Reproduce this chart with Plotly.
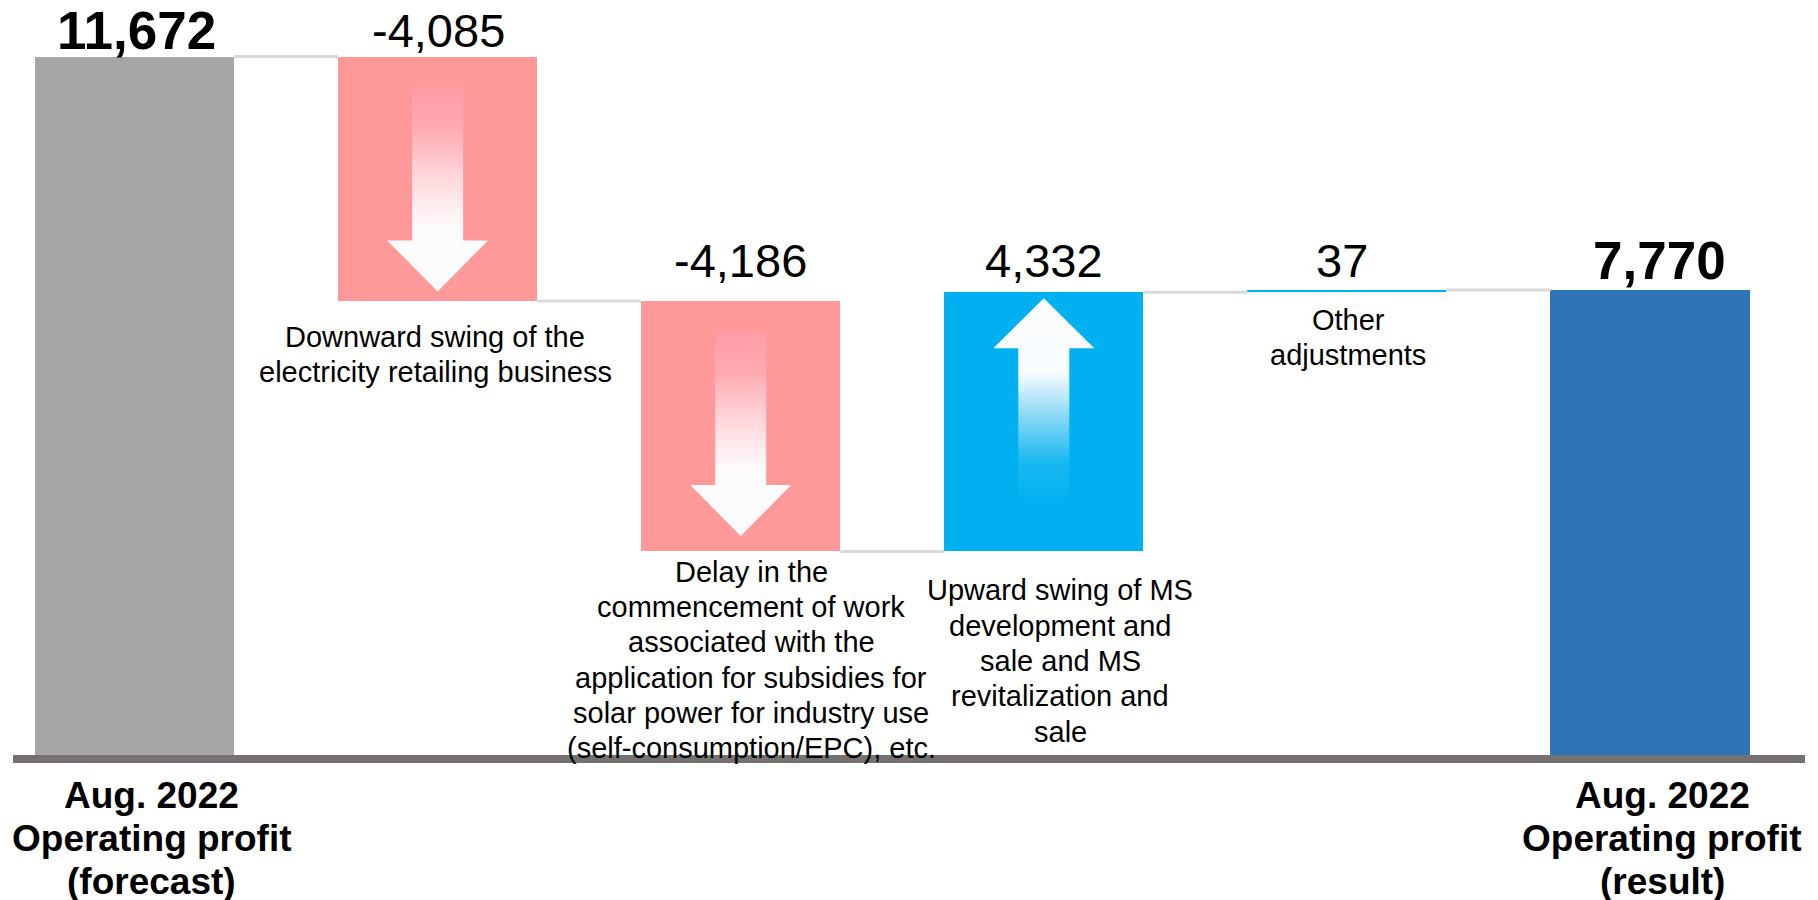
import plotly.graph_objects as go

# ---------------- data ----------------
categories = ["forecast", "retail", "subsidy", "ms", "other", "result"]
values = [11672, -4085, -4186, 4332, 37, 7770]
measures = ["absolute", "relative", "relative", "relative", "relative", "total"]
value_labels = ["11,672", "-4,085", "-4,186", "4,332", "37", "7,770"]
category_lines = [
    ["Aug. 2022", "Operating profit", "(forecast)"],
    [], [], [], [],
    ["Aug. 2022", "Operating profit", "(result)"],
]
description_lines = [
    [],
    ["Downward swing of the", "electricity retailing business"],
    ["Delay in the", "commencement of work", "associated with the",
     "application for subsidies for", "solar power for industry use",
     "(self-consumption/EPC), etc."],
    ["Upward swing of MS", "development and", "sale and MS",
     "revitalization and", "sale"],
    ["Other", "adjustments"],
    [],
]

# ---------------- style ----------------
FONT = "Arial, Liberation Sans, sans-serif"
bar_colors = ["#a6a6a6", "#ff9999", "#ff9999", "#00b0f0", "#00b0f0", "#2e75b6"]
bold_value = [True, False, False, False, False, True]
value_font = {True: 53, False: 47}
value_baseline = [-7.5, -9.8, -24.3, -15.5, -13.3, -11.7]   # px relative to bar top
value_xshift = [1.5, 1, 0, 0, -5, 9]
desc_baseline = [0, 45.7, 30, 48.8, 37.8, 0]                # px below bar bottom
desc_xshift = [0, -2.5, 10.5, 16.5, 1.5, 0]
desc_font = 29
desc_step = 35.3
cat_font = 37
cat_baselines = [53, 96, 139]
cat_xshift = [17, 0, 0, 0, 0, 12]

# page body has an 8px margin: the figure is sized to end at the window edge
W, H = 1810, 892
ML, MR, MT, MB = 5, 13, 0, 145
XR = [-0.4009, 5.5114]
YR = [0, 12483]
BAR_W = 0.6566
PLOT_H = H - MT - MB
PLOT_W = W - ML - MR
UPY = (YR[1] - YR[0]) / PLOT_H      # data units per pixel (y)
UPX = (XR[1] - XR[0]) / PLOT_W      # data units per pixel (x)
DESC, PAD = 0.212, 2

# ---------------- waterfall geometry from values ----------------
bases, heights, cums = [], [], []
cum = 0
for v, m in zip(values, measures):
    if m == "absolute":
        base, h, cum = 0, v, v
    elif m == "total":
        base, h = 0, cum
    else:
        base = cum if v >= 0 else cum + v
        h = abs(v)
        cum += v
    bases.append(base)
    heights.append(h)
    cums.append(cum)

xs = list(range(len(categories)))
fig = go.Figure()

fig.add_trace(go.Bar(
    x=xs, y=heights, base=bases, width=BAR_W,
    marker=dict(color=bar_colors, line=dict(width=0)),
    hoverinfo="skip", showlegend=False,
))

# connectors
cx, cy = [], []
for i in range(len(xs) - 1):
    cx += [xs[i] + BAR_W / 2, xs[i + 1] - BAR_W / 2, None]
    cy += [cums[i], cums[i], None]
fig.add_trace(go.Scatter(x=cx, y=cy, mode="lines",
                         line=dict(color="#d9d9d9", width=3),
                         hoverinfo="skip", showlegend=False))

# gradient arrows inside the change bars
SW, HW = 51 * UPX, 101 * UPX
for i, v in enumerate(values):
    if measures[i] != "relative" or abs(v) < 1000:
        continue
    c = xs[i]
    top = bases[i] + heights[i]
    if v < 0:
        t = top - 30 * UPY
        hb = t - 154 * UPY
        tip = hb - 51 * UPY
        px = [c - SW/2, c + SW/2, c + SW/2, c + HW/2, c, c - HW/2, c - SW/2, c - SW/2]
        py = [t, t, hb, hb, tip, hb, hb, t]
        cs = [[0, "#fbfcfe"], [0.32, "#fdfbfc"], [0.55, "#ffd9dd"],
              [0.8, "#ffa9b1"], [1, "#ff9ca6"]]
        lo, hi = tip, t
    else:
        tip = top - 6 * UPY
        hb = tip - 50 * UPY
        bot = hb - 155 * UPY
        px = [c - SW/2, c + SW/2, c + SW/2, c + HW/2, c, c - HW/2, c - SW/2, c - SW/2]
        py = [bot, bot, hb, hb, tip, hb, hb, bot]
        cs = [[0, "#00b0f0"], [0.2, "#1ab8f1"], [0.42, "#86d8f6"],
              [0.64, "#f9fcfe"], [1, "#fafcfe"]]
        lo, hi = bot, tip
    fig.add_trace(go.Scatter(
        x=px, y=py, mode="lines", fill="toself", line=dict(width=0),
        fillgradient=dict(type="vertical", colorscale=cs, start=lo, stop=hi),
        hoverinfo="skip", showlegend=False,
    ))

annotations = []


def add_text(x, y, text, fs, baseline_dy, xshift=0):
    annotations.append(dict(
        x=x, y=y, xref="x", yref="y", text=text, showarrow=False,
        xanchor="center", yanchor="bottom",
        yshift=-(baseline_dy + DESC * fs + PAD), xshift=xshift,
        font=dict(family=FONT, size=fs, color="#000000"),
    ))


for i in xs:
    top = bases[i] + heights[i]
    b = bold_value[i]
    txt = f"<b>{value_labels[i]}</b>" if b else value_labels[i]
    add_text(i, top, txt, value_font[b], value_baseline[i], value_xshift[i])
    for k, line in enumerate(description_lines[i]):
        add_text(i, bases[i], line, desc_font,
                 desc_baseline[i] + k * desc_step, desc_xshift[i])
    for k, line in enumerate(category_lines[i]):
        add_text(i, 0, f"<b>{line}</b>", cat_font, cat_baselines[k], cat_xshift[i])

fig.update_layout(
    width=W, height=H,
    margin=dict(l=ML, r=MR, t=MT, b=MB, pad=0),
    paper_bgcolor="white", plot_bgcolor="white",
    xaxis=dict(range=XR, showline=True, linecolor="#767171", linewidth=8,
               showgrid=False, zeroline=False, showticklabels=False,
               ticks="", fixedrange=True),
    yaxis=dict(range=YR, visible=False, showgrid=False, zeroline=False,
               fixedrange=True),
    annotations=annotations,
    bargap=0,
)

fig.write_html("out.html")
